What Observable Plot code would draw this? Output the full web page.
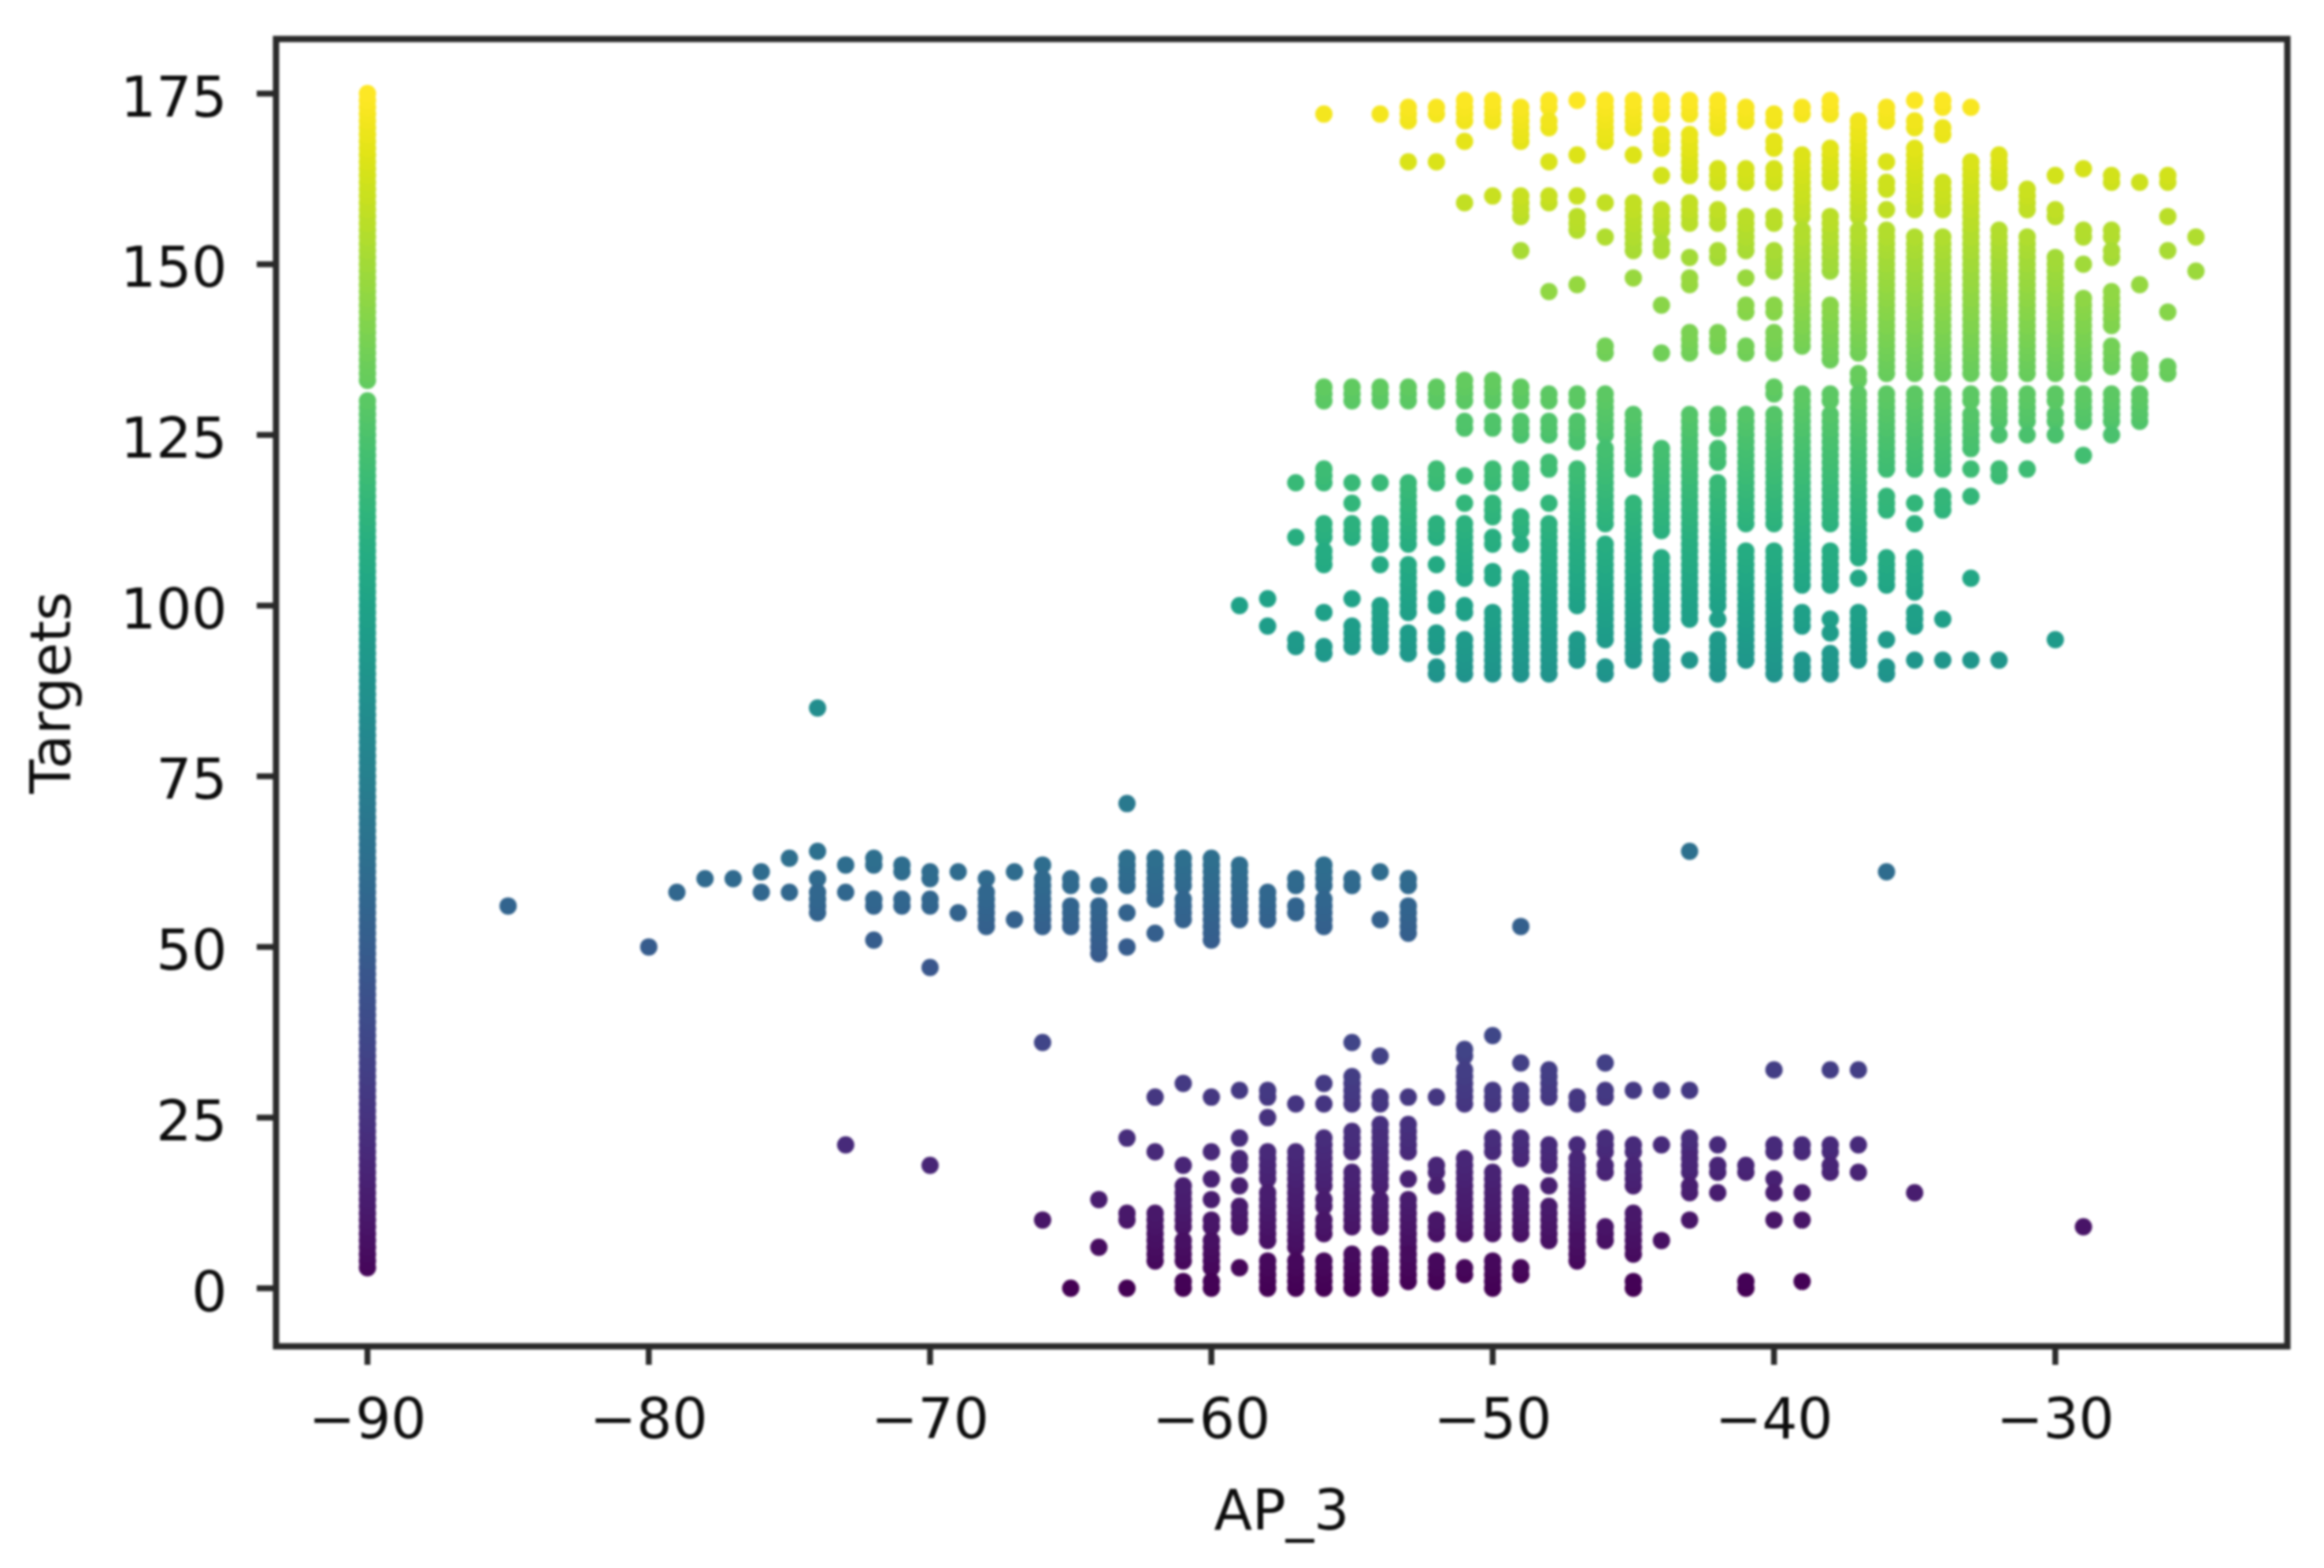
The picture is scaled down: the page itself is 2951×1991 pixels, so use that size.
<!DOCTYPE html>
<html><head><meta charset="utf-8">
<script src="https://cdn.jsdelivr.net/npm/d3@7"></script>
<script src="https://cdn.jsdelivr.net/npm/@observablehq/plot@0.6"></script>
<style>html,body{margin:0;padding:0;background:#fff}</style>
</head><body><div id="chart"></div>
<script>
const xTicks = [-90,-80,-70,-60,-50,-40,-30];
const yTicks = [0,25,50,75,100,125,150,175];
// Each entry: AP_3 value, then the Targets read at that AP_3 ("a-b" = every integer target in the run)
const noSignalColumn = [[-90,"3-130 133-175"]];
const upperBand = [
[-56,"172 130-132"],[-55,"130-132"],[-54,"172 130-132"],[-53,"171-173 165 130-132"],
[-52,"172-173 165 130-132"],[-51,"171-174 168 159 130-133"],[-50,"171-174 160 130-133"],
[-49,"168-173 157-160 152 130-132"],[-48,"173-174 170-171 165 159-160 146 130-131"],
[-47,"174 166 160 155-157 147 130-131"],[-46,"168-174 159 154 137-138 130-131"],
[-45,"170-174 166 152-159 148"],[-44,"172-174 167-169 163 155-158 152-153 144 137"],
[-43,"172-174 163-169 156-159 151 147-148 137-140"],[-42,"170-174 162-164 156-158 151-152 138-140"],
[-41,"171-173 162-164 152-157 148 143-144 137-138"],
[-40,"171-172 167-168 162-164 156-157 149-152 143-144 137-140 131-132"],
[-39,"172-173 157-166 138-155 130-131"],[-38,"172-174 162-167 149-157 136-144 130-131"],
[-37,"157-171 137-155 133-134 130-131"],[-36,"171-173 165 161-162 158 134-155 130-131"],
[-35,"174 170-171 158-167 134-154 130-131"],[-34,"173-174 169-170 158-162 134-154 130-131"],
[-33,"173 134-165 130-131"],[-32,"162-166 134-155 130-131"],[-31,"158-161 134-154 130-131"],
[-30,"163 157-158 134-151 130-131"],[-29,"164 154-155 150 134-145 130-131"],
[-28,"162-163 154-155 151-152 141-146 135-138 130-131"],[-27,"162 147 134-136 130-131"],
[-26,"162-163 157 152 143 134-135"],[-25,"154 149"]
];
const middleBand = [
[-59,"100"],[-58,"101 97"],[-57,"118 110 94-95"],[-56,"118-120 110-112 106-108 99 93-94"],
[-55,"118 115 110-112 101 94-97"],[-54,"118 109-112 106 94-100"],[-53,"109-118 99-106 93-96"],
[-52,"118-120 110-112 106 100-101 94-96 90-91"],[-51,"126-127 119 115 104-112 99-100 90-95"],
[-50,"126-127 118-120 113-115 109-110 104-105 90-99"],[-49,"125-127 118-120 111-113 109 90-104"],
[-48,"125-127 120-121 115 90-112"],[-47,"124-127 100-120 92-95"],[-46,"125-129 112-123 95-109 90-91"],
[-45,"120-128 92-115"],[-44,"111-123 97-107 90-94"],[-43,"98-128 92"],
[-42,"126-128 121-123 100-118 98 90-95"],[-41,"112-128 92-108"],[-40,"112-128 90-108"],
[-39,"103-129 97-99 90-92"],[-38,"112-128 103-108 98 96 90-93"],[-37,"107-129 104 92-99"],
[-36,"120-129 114-116 103-107 95 90-91"],[-35,"120-129 115 112 102-107 97-99 92"],
[-34,"120-129 114-116 98 92"],[-33,"123-128 120 116 104 92"],[-32,"127-129 125 119-120 92"],
[-31,"127-129 125 120"],[-30,"127-128 125 95"],[-29,"127-129 122"],[-28,"127-129 125"],[-27,"127-129"]
];
const centerBand = [
[-85,"56"],[-80,"50"],[-79,"58"],[-78,"60"],[-77,"60"],[-76,"61 58"],[-75,"63 58"],
[-74,"85 64 60 55-58"],[-73,"62 58"],[-72,"62-63 56-57 51"],[-71,"61-62 56-57"],[-70,"60-61 56-57 47"],
[-69,"61 55"],[-68,"60 53-58"],[-67,"61 54"],[-66,"62 53-60"],[-65,"59-60 53-56"],[-64,"59 49-56"],
[-63,"71 59-63 55 50"],[-62,"57-63 52"],[-61,"59-63 54-57"],[-60,"51-63"],[-59,"54-62"],[-58,"54-58"],
[-57,"59-60 55-56"],[-56,"59-62 53-57"],[-55,"59-60"],[-54,"61 54"],[-53,"59-60 52-56"],
[-49,"53"],[-43,"64"],[-36,"61"]
];
const lowerBand = [
[-73,"21"],[-70,"18"],[-66,"36 10"],[-65,"0"],[-64,"13 6"],[-63,"22 10-11 0"],[-62,"28 20 4-11"],
[-61,"30 18 9-15 4-7 0-1"],[-60,"28 20 16 13 9-10 3-7 0-1"],[-59,"29 22 19 18 15 9-12 3"],
[-58,"28-29 25 16-20 7-14 0-4"],[-57,"27 6-20 0-4"],[-56,"30 27 15-22 12-13 8-10 0-4"],
[-55,"36 27-31 20-23 9-17 0-5"],[-54,"34 27-28 23-24 15-22 9-13 0-5"],[-53,"28 20-24 16 6-13 1-5"],
[-52,"28 17-18 15 8-10 1-4"],[-51,"34-35 27-32 8-19 2-3"],[-50,"37 27-29 20-22 8-17 0-4"],
[-49,"33 27-29 19-22 8-14 2-3"],[-48,"28-32 18-21 15 7-12"],[-47,"27-28 21 8-19 4-7"],
[-46,"33 28-29 20-22 17-18 7-9"],[-45,"29 20-21 15-18 5-11 0-1"],[-44,"29 21 7"],
[-43,"29 20-22 17-19 14-15 10"],[-42,"21 17-18 14"],[-41,"17-18 0-1"],[-40,"32 20-21 16 10 14"],
[-39,"20-21 14 10 1"],[-38,"32 20-21 17-18"],[-37,"32 21 17"],[-35,"14"],[-29,"9"]
];

function expand(rows){
  const out=[];
  for(const [ap,runs] of rows) for(const run of runs.split(" ")){
    const [a,b=a]=run.split("-").map(Number);
    for(let t=a;t<=b;t++) out.push({ap,target:t});
  }
  return out;
}
const points = expand(noSignalColumn.concat(lowerBand,centerBand,middleBand,upperBand));
const minus = d => d<0 ? "\u2212"+(-d) : String(d);
const ink="#0d0d0d";
const chart = Plot.plot({
  width:2951,height:1991,marginLeft:350,marginRight:47,marginTop:49,marginBottom:282,
  style:{fontFamily:"DejaVu Sans",background:"#fff",color:ink,fontSize:"71px",filter:"blur(1.5px)"},
  x:{domain:[-93.25,-21.75]},
  y:{domain:[-8.5,183]},
  color:{type:"linear",scheme:"viridis",domain:[0,175]},
  marks:[
    Plot.dot(points,{x:"ap",y:"target",r:11,fill:"target",stroke:"none"}),
    Plot.frame({stroke:"#2a2a2a",strokeWidth:8}),
    Plot.axisX({ticks:xTicks,tickFormat:minus,tickSize:24,tickPadding:42,strokeWidth:7.5,stroke:"#2a2a2a",fontSize:71,fill:ink,label:"AP_3",labelAnchor:"center",labelOffset:232,labelArrow:"none"}),
    Plot.axisY({ticks:yTicks,tickSize:24,tickFormat:()=>"",strokeWidth:7.5,stroke:"#2a2a2a",label:null}),
    Plot.axisY({ticks:yTicks,tickSize:0,tickPadding:62,dy:6,fontSize:71,fill:ink,label:"Targets",labelAnchor:"center",labelOffset:312,labelArrow:"none"})
  ]
});
document.getElementById("chart").appendChild(chart);
</script></body></html>
